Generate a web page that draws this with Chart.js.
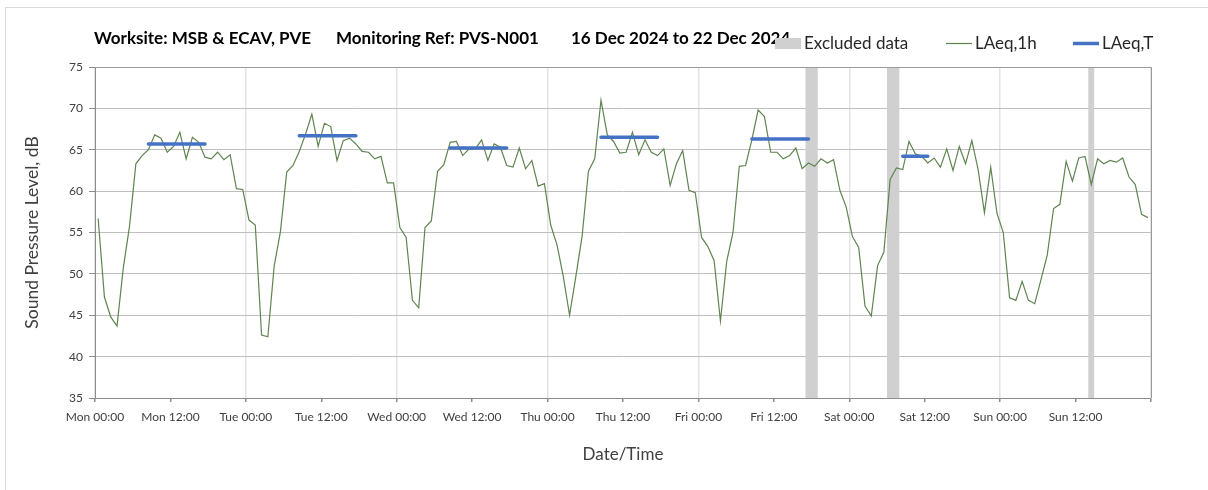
<!DOCTYPE html>
<html>
<head>
<meta charset="utf-8">
<script src="https://cdn.jsdelivr.net/npm/chart.js@4.4.1/dist/chart.umd.min.js"></script>
<style>
  html, body { margin: 0; padding: 0; background: #fff; }
  #frame { position: absolute; left: 5px; top: 7px; width: 1300px; height: 600px; border: 1px solid #d9d9d9; }
  #wrap { position: absolute; left: 0; top: 0; width: 1208px; height: 490px; }
</style>
</head>
<body>
<div id="frame"></div>
<div id="wrap"><canvas id="noise_chart" width="1208" height="490"></canvas></div>
<script>
// hourly LAeq,1h values, Mon 00:00 .. Sun 23:00 (one per hour)
const laeq1h = [
  56.7, 47.2, 44.8, 43.7, 50.7, 55.8, 63.3, 64.3, 65.0, 66.8, 66.4, 64.7,
  65.4, 67.1, 63.9, 66.5, 65.9, 64.1, 63.9, 64.7, 63.8, 64.4, 60.3, 60.2,
  56.5, 55.9, 42.6, 42.4, 50.9, 55.1, 62.3, 63.1, 64.8, 66.9, 69.3, 65.4,
  68.2, 67.8, 63.7, 66.1, 66.4, 65.7, 64.8, 64.7, 63.9, 64.2, 61.0, 61.0,
  55.6, 54.4, 46.8, 45.9, 55.6, 56.4, 62.4, 63.2, 65.9, 66.0, 64.3, 65.1,
  65.1, 66.2, 63.7, 65.7, 65.3, 63.1, 62.9, 65.2, 62.7, 63.7, 60.6, 60.9,
  55.9, 53.5, 49.7, 45.0, 49.7, 54.6, 62.4, 63.9, 71.0, 66.8, 66.0, 64.6,
  64.7, 67.1, 64.4, 66.2, 64.7, 64.3, 65.1, 60.7, 63.3, 64.9, 60.1, 59.8,
  54.4, 53.3, 51.6, 44.3, 51.5, 55.0, 63.0, 63.1, 66.2, 69.8, 69.0, 64.7,
  64.7, 63.9, 64.3, 65.2, 62.7, 63.4, 63.0, 63.9, 63.4, 63.8, 60.1, 58.1,
  54.5, 53.2, 46.1, 44.9, 51.0, 52.6, 61.4, 62.8, 62.6, 66.0, 64.5, 64.2,
  63.4, 64.0, 62.9, 65.1, 62.5, 65.4, 63.3, 66.1, 62.6, 57.4, 62.9, 57.3,
  55.0, 47.1, 46.8, 49.1, 46.8, 46.4, 49.3, 52.3, 57.9, 58.4, 63.6, 61.2,
  64.0, 64.2, 60.8, 63.9, 63.3, 63.7, 63.5, 64.0, 61.7, 60.8, 57.2, 56.8
];

// LAeq,T periods (hour index of first / last hour) and level
const periodStart = [8, 32, 56, 80, 104, 128];
const periodEnd   = [17, 41, 65, 89, 113, 132];
const periodLevel = [65.7, 66.7, 65.2, 66.5, 66.3, 64.2];

// excluded data spans, hours from Mon 00:00
const excludedStart = [113, 126, 158];
const excludedEnd   = [115, 128, 159];

const tickLabels = [
  'Mon 00:00', 'Mon 12:00', 'Tue 00:00', 'Tue 12:00', 'Wed 00:00', 'Wed 12:00', 'Thu 00:00',
  'Thu 12:00', 'Fri 00:00', 'Fri 12:00', 'Sat 00:00', 'Sat 12:00', 'Sun 00:00', 'Sun 12:00'
];
const yMin = 35;
const yMax = 75;

const titleParts = ['Worksite: MSB & ECAV, PVE', 'Monitoring Ref: PVS-N001', '16 Dec 2024 to 22 Dec 2024'];
const legendNames = ['Excluded data', 'LAeq,1h', 'LAeq,T'];

// build points
const hourPoints = laeq1h.map((v, i) => ({ x: i + 0.5, y: v }));

const periodPoints = [];
periodStart.forEach((s, k) => {
    periodPoints.push({ x: s + 0.5, y: periodLevel[k] });
    periodPoints.push({ x: periodEnd[k] + 0.5, y: periodLevel[k] });
    periodPoints.push({ x: periodEnd[k] + 0.5, y: null });
});

const bandPoints = [];
excludedStart.forEach((s, k) => {
    bandPoints.push({ x: s, y: yMax });
    bandPoints.push({ x: excludedEnd[k], y: yMax });
    bandPoints.push({ x: excludedEnd[k], y: null });
});

const GREEN = '#5f8450';
const BLUE = '#4472c4';
const BAND = '#d0d0d0';

// title + legend + plot frame
const overlayPlugin = {
    id: 'overlay',
    afterDraw(chart) {
        const { ctx, chartArea } = chart;
        ctx.save();
        ctx.strokeStyle = '#999999';
        ctx.lineWidth = 1;
        ctx.beginPath();
        ctx.moveTo(chartArea.left, chartArea.top + 0.5);
        ctx.lineTo(chartArea.right + 0.5, chartArea.top + 0.5);
        ctx.lineTo(chartArea.right + 0.5, chartArea.bottom);
        ctx.stroke();

        ctx.fillStyle = '#000';
        ctx.font = 'bold 17px Lato';
        ctx.textBaseline = 'alphabetic';
        const titleX = [94, 336, 571];
        titleParts.forEach((t, i) => ctx.fillText(t, titleX[i], 44));

        // legend
        const legendX = [775, 946, 1073];
        const boxW = 26;
        const midY = 43.5;
        ctx.font = '17px Lato';
        ctx.fillStyle = BAND;
        ctx.fillRect(legendX[0], 38, boxW, 11);
        ctx.strokeStyle = GREEN;
        ctx.lineWidth = 1.2;
        ctx.beginPath();
        ctx.moveTo(legendX[1], midY);
        ctx.lineTo(legendX[1] + boxW, midY);
        ctx.stroke();
        ctx.strokeStyle = BLUE;
        ctx.lineWidth = 3.5;
        ctx.beginPath();
        ctx.moveTo(legendX[2], midY);
        ctx.lineTo(legendX[2] + boxW, midY);
        ctx.stroke();
        ctx.fillStyle = '#262626';
        legendNames.forEach((t, i) => ctx.fillText(t, legendX[i] + boxW + 3, 49));
        ctx.restore();
    }
};

Chart.defaults.font.family = 'Lato';
Chart.defaults.color = '#404040';

const ctx = document.getElementById('noise_chart').getContext('2d');
new Chart(ctx, {
    type: 'line',
    data: {
        datasets: [
            {
                label: legendNames[2],
                data: periodPoints,
                borderColor: BLUE,
                borderWidth: 3.5,
                borderCapStyle: 'round',
                pointRadius: 0,
                spanGaps: false,
                fill: false,
                order: 1
            },
            {
                label: legendNames[1],
                data: hourPoints,
                borderColor: GREEN,
                borderWidth: 1.2,
                pointRadius: 0,
                tension: 0,
                fill: false,
                order: 2
            },
            {
                label: legendNames[0],
                data: bandPoints,
                borderWidth: 0,
                borderColor: 'rgba(0,0,0,0)',
                backgroundColor: BAND,
                pointRadius: 0,
                spanGaps: false,
                fill: 'start',
                order: 3
            }
        ]
    },
    options: {
        responsive: false,
        animation: false,
        devicePixelRatio: 1,
        layout: { padding: { top: 67, right: 57, bottom: 0, left: 0 } },
        plugins: {
            legend: { display: false },
            tooltip: { enabled: false }
        },
        scales: {
            x: {
                type: 'linear',
                min: 0,
                max: 168,
                afterFit: (scale) => { scale.height = 92; },
                ticks: {
                    stepSize: 12,
                    autoSkip: false,
                    maxRotation: 0,
                    padding: 8,
                    font: { size: 12 },
                    callback: (value) => tickLabels[value / 12] || ''
                },
                grid: {
                    color: (c) => (c.tick && c.tick.value % 24 === 0) ? '#e3e3e3' : 'rgba(0,0,0,0)',
                    lineWidth: 1.5,
                    tickColor: '#8c8c8c',
                    tickLength: 4
                },
                border: { color: '#8c8c8c' },
                title: {
                    display: true,
                    text: 'Date/Time',
                    font: { size: 17 },
                    padding: { top: 0, bottom: 25 }
                }
            },
            y: {
                min: yMin,
                max: yMax,
                afterFit: (scale) => { scale.width = 95; },
                ticks: {
                    stepSize: 5,
                    padding: 6,
                    font: { size: 12 }
                },
                grid: {
                    color: '#bfbfbf',
                    tickColor: '#8c8c8c',
                    tickLength: 6
                },
                border: { color: '#8c8c8c' },
                title: {
                    display: true,
                    text: 'Sound Pressure Level, dB',
                    font: { size: 17.5 },
                    padding: { top: 22, bottom: 0 }
                }
            }
        }
    },
    plugins: [overlayPlugin]
});
</script>
</body>
</html>
